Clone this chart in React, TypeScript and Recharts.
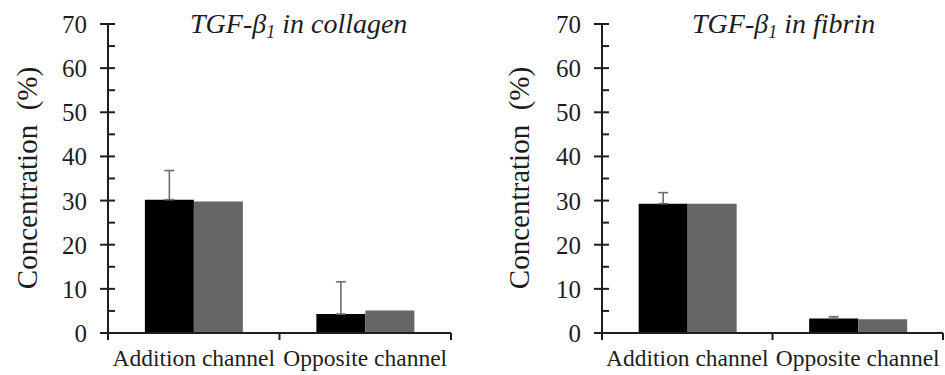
import React from "react";
import { BarChart, Bar, XAxis, YAxis, ErrorBar } from "recharts";

const categories = ["Addition channel", "Opposite channel"];
const collagenBlack = [30.2, 4.3];
const collagenGray = [29.8, 5.1];
const collagenErrUp = [6.6, 7.3];
const fibrinBlack = [29.3, 3.3];
const fibrinGray = [29.3, 3.1];
const fibrinErrUp = [2.5, 0.4];
const yTicks = [0, 5, 10, 15, 20, 25, 30, 35, 40, 45, 50, 55, 60, 65, 70];

const FONT = "Liberation Serif, Times New Roman, serif";
const INK = "#1e1e1e";

const buildData = (black: number[], gray: number[], errUp: number[]) =>
  categories.map((c, i) => ({ cat: c, black: black[i], gray: gray[i], err: [0, errUp[i]] }));

const YTick = (props: any) => {
  const { x, y, payload } = props;
  const v = payload.value;
  const major = v % 10 === 0;
  return (
    <g>
      <line x1={major ? x - 8 : x} x2={x + 7} y1={y} y2={y} stroke={INK} strokeWidth={2} />
      {major && (
        <text x={x - 21} y={y + 9} textAnchor="end" fontSize={25} fontFamily={FONT} fill={INK}>
          {v}
        </text>
      )}
    </g>
  );
};

const makeXTick = (band: number) => (props: any) => {
  const { x, y, payload, index } = props;
  return (
    <g>
      <line x1={x - band / 2} x2={x - band / 2} y1={y} y2={y + 7} stroke={INK} strokeWidth={2} />
      {index === categories.length - 1 && (
        <line x1={x + band / 2} x2={x + band / 2} y1={y} y2={y + 7} stroke={INK} strokeWidth={2} />
      )}
      <text x={x} y={y + 33} textAnchor="middle" fontSize={23.5} fontFamily={FONT} fill={INK}>
        {payload.value}
      </text>
    </g>
  );
};

const makeLabels = (titleStart: string, titleEnd: string, titleX: number, labelX: number) => () => (
  <g>
    <text
      transform={`translate(${labelX + 10},178) rotate(-90)`}
      textAnchor="middle"
      fontSize={29}
      fontFamily={FONT}
      fill={INK}
    >
      {"Concentration\u00a0 (%)"}
    </text>
    <text x={titleX} y={33} fontSize={28} fontFamily={FONT} fontStyle="italic" fill={INK}>
      {titleStart}
      <tspan fontSize={18} dy={5}>1</tspan>
      <tspan dy={-5}>{titleEnd}</tspan>
    </text>
  </g>
);

type PanelProps = {
  width: number;
  rightMargin: number;
  data: any[];
  titleEnd: string;
  titleX: number;
  labelX: number;
};

const Panel = ({ width, rightMargin, data, titleEnd, titleX, labelX }: PanelProps) => {
  const band = (width - 108 - rightMargin) / categories.length;
  return (
    <BarChart
      width={width}
      height={375}
      data={data}
      margin={{ top: 24, right: rightMargin, left: 0, bottom: 0 }}
      barCategoryGap="21.5%"
      barGap={0}
    >
      <XAxis
        dataKey="cat"
        height={42}
        tickSize={0}
        tickMargin={0}
        axisLine={{ stroke: INK, strokeWidth: 2 }}
        tickLine={false}
        tick={makeXTick(band)}
        interval={0}
      />
      <YAxis
        width={108}
        domain={[0, 70]}
        ticks={yTicks}
        interval={0}
        tickSize={0}
        tickMargin={0}
        axisLine={{ stroke: INK, strokeWidth: 2 }}
        tickLine={false}
        tick={YTick}
        label={makeLabels("TGF-β", titleEnd, titleX, labelX)}
      />
      <Bar dataKey="black" fill="#000000" isAnimationActive={false}>
        <ErrorBar dataKey="err" width={5} stroke="#6e6e6e" strokeWidth={1.6} direction="y" />
      </Bar>
      <Bar dataKey="gray" fill="#666666" isAnimationActive={false} />
    </BarChart>
  );
};

export default function App() {
  return (
    <div style={{ position: "absolute", left: 0, top: 0, width: 945, height: 375, background: "#ffffff", overflow: "hidden" }}>
      <div style={{ position: "absolute", left: 0, top: 0 }}>
        <Panel
          width={470}
          rightMargin={19}
          data={buildData(collagenBlack, collagenGray, collagenErrUp)}
          titleEnd=" in collagen"
          titleX={190}
          labelX={27}
        />
      </div>
      <div style={{ position: "absolute", left: 494, top: 0 }}>
        <Panel
          width={451}
          rightMargin={2}
          data={buildData(fibrinBlack, fibrinGray, fibrinErrUp)}
          titleEnd=" in fibrin"
          titleX={198}
          labelX={25}
        />
      </div>
    </div>
  );
}
